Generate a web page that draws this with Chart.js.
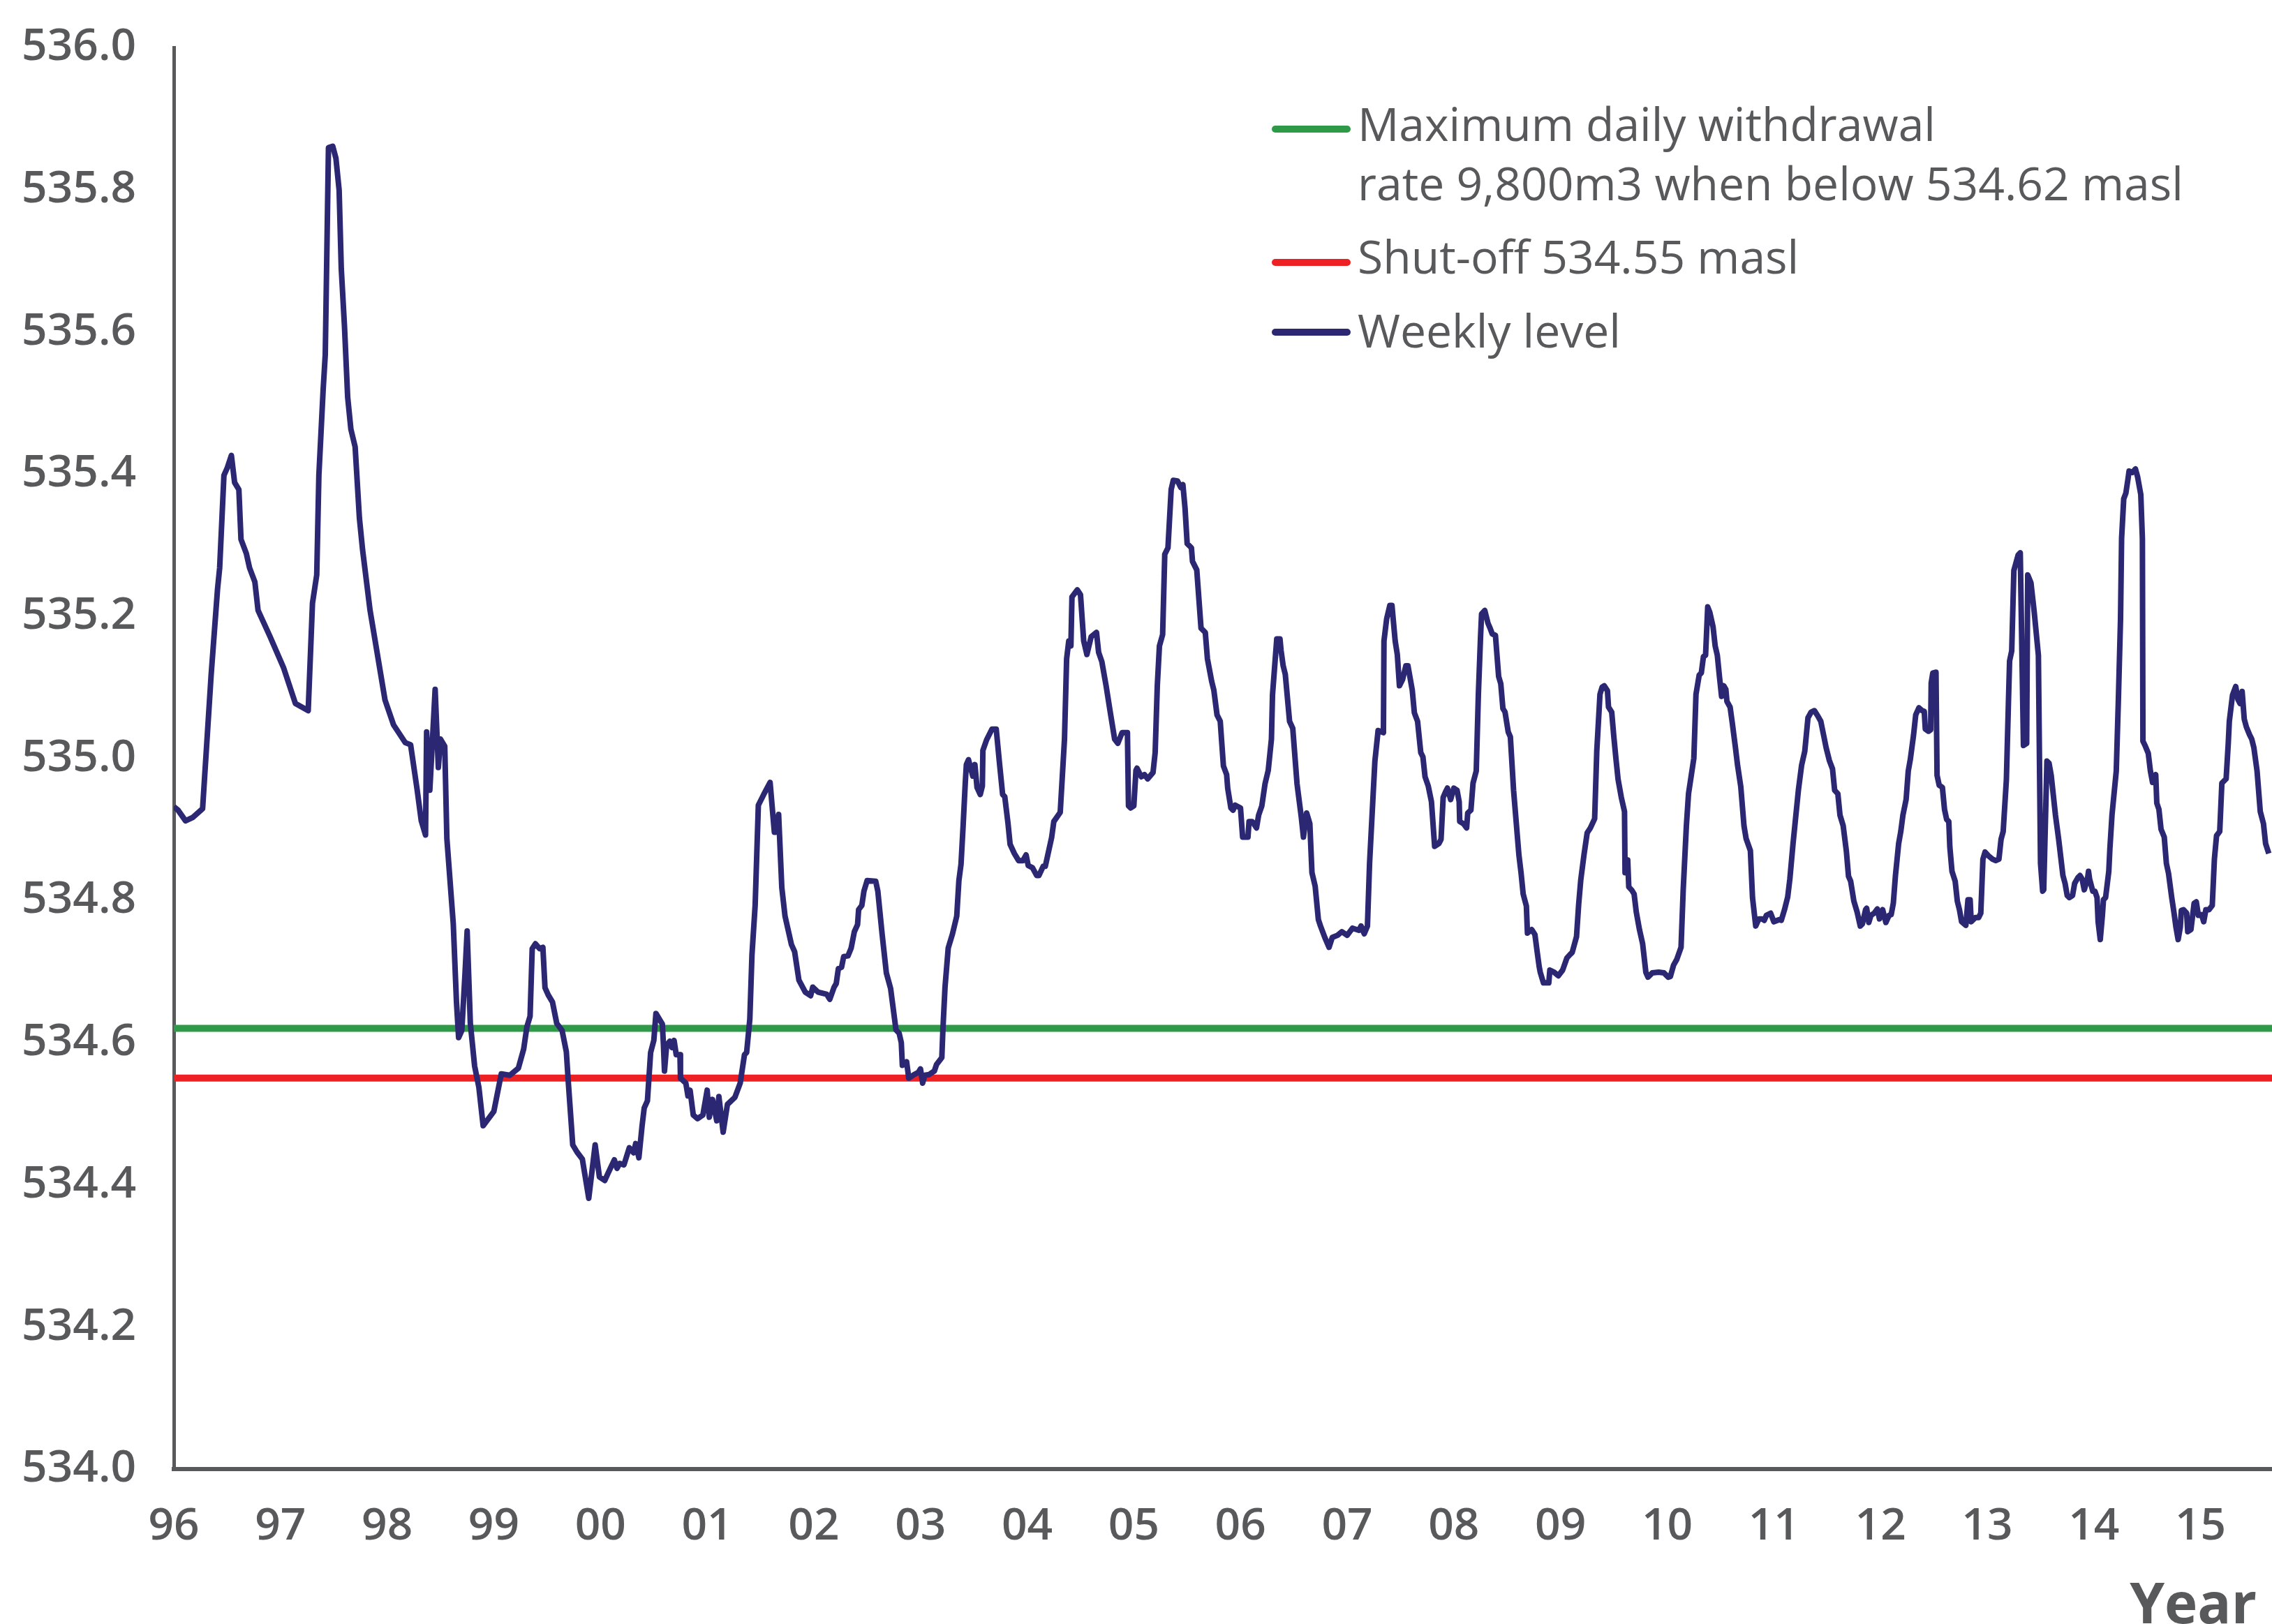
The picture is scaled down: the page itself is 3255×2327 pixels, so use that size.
<!DOCTYPE html>
<html>
<head>
<meta charset="utf-8">
<title>Weekly level</title>
<script src="https://cdn.jsdelivr.net/npm/chart.js@4.4.0/dist/chart.umd.min.js"></script>
<style>
  html, body { margin: 0; padding: 0; background: #fff; overflow: hidden; }
  canvas { display: block; }
</style>
</head>
<body>
<canvas id="chart" width="3255" height="2327"></canvas>
<script>
// weekly level readings (decimal year, masl)
const weekYears = [
  1996.00,1996.04,1996.11,1996.18,1996.27,1996.35,1996.41,1996.43,1996.47,1996.50,1996.54,1996.57,1996.61,1996.63,1996.68,1996.71,1996.76,1996.79,1996.90,
  1997.03,1997.14,1997.26,1997.30,1997.34,1997.36,1997.40,1997.42,1997.45,1997.49,1997.52,1997.55,1997.57,1997.60,1997.63,1997.66,1997.70,1997.74,1997.77,1997.84,1997.98,
  1998.06,1998.17,1998.22,1998.28,1998.32,1998.36,1998.37,1998.40,1998.45,1998.48,1998.50,1998.54,1998.56,1998.62,1998.65,1998.67,1998.70,1998.73,1998.75,1998.78,1998.82,1998.86,1998.90,
  1999.00,1999.07,1999.15,1999.23,1999.28,1999.31,1999.34,1999.36,1999.39,1999.43,1999.46,1999.48,1999.51,1999.55,1999.59,1999.64,1999.68,1999.70,1999.74,1999.78,1999.83,1999.89,1999.95,1999.99,
  2000.04,2000.07,2000.13,2000.155,2000.18,2000.22,2000.27,2000.31,2000.33,2000.36,2000.39,2000.41,2000.44,2000.47,2000.50,2000.52,2000.56,2000.58,2000.59,2000.60,2000.62,2000.65,2000.67,2000.69,2000.71,2000.745,2000.75,2000.80,2000.82,2000.84,2000.87,2000.91,2000.96,
  2001.00,2001.02,2001.05,2001.09,2001.11,2001.15,2001.19,2001.26,2001.31,2001.35,2001.37,2001.40,2001.42,2001.45,2001.48,2001.53,2001.59,2001.63,2001.64,2001.67,2001.70,2001.73,2001.79,2001.82,2001.86,2001.92,2001.97,2001.99,
  2002.04,2002.12,2002.15,2002.19,2002.21,2002.23,2002.26,2002.28,2002.32,2002.35,2002.38,2002.41,2002.42,2002.45,2002.47,2002.50,2002.58,2002.60,2002.64,2002.68,2002.72,2002.74,2002.77,2002.80,2002.82,2002.83,2002.87,2002.89,2002.94,2002.98,
  2003.00,2003.02,2003.04,2003.08,2003.13,2003.15,2003.20,2003.21,2003.23,2003.26,2003.30,2003.34,2003.36,2003.38,2003.40,2003.42,2003.43,2003.45,2003.49,2003.51,2003.53,2003.56,2003.58,2003.585,2003.62,2003.67,2003.71,2003.74,2003.77,2003.79,2003.82,2003.84,2003.88,2003.92,2003.96,2003.99,
  2004.01,2004.05,2004.09,2004.11,2004.15,2004.17,2004.23,2004.25,2004.31,2004.35,2004.37,2004.39,2004.41,2004.42,2004.47,2004.50,2004.53,2004.56,2004.60,2004.65,2004.67,2004.70,2004.74,2004.78,2004.82,2004.85,2004.89,2004.94,2004.95,2004.97,
  2005.00,2005.02,2005.03,2005.07,2005.10,2005.13,2005.18,2005.20,2005.22,2005.24,2005.27,2005.29,2005.32,2005.35,2005.37,2005.41,2005.44,2005.46,2005.48,2005.50,2005.54,2005.55,2005.59,2005.63,2005.67,2005.69,2005.73,2005.75,2005.78,2005.81,2005.84,2005.87,2005.88,2005.91,2005.93,2005.95,
  2006.00,2006.02,2006.07,2006.08,2006.11,2006.15,2006.17,2006.20,2006.23,2006.26,2006.29,2006.30,2006.34,2006.37,2006.38,2006.40,2006.42,2006.46,2006.49,2006.53,2006.57,2006.59,2006.62,2006.65,2006.67,2006.70,2006.73,2006.75,2006.79,2006.83,2006.86,2006.91,2006.95,
  2007.00,2007.05,2007.11,2007.13,2007.16,2007.19,2007.21,2007.24,2007.26,2007.29,2007.34,2007.345,2007.37,2007.40,2007.42,2007.45,2007.47,2007.49,2007.52,2007.55,2007.57,2007.61,2007.63,2007.66,2007.69,2007.71,2007.73,2007.76,2007.79,2007.82,2007.86,2007.88,2007.90,2007.92,2007.94,2007.97,
  2008.00,2008.03,2008.05,2008.055,2008.09,2008.12,2008.13,2008.16,2008.18,2008.21,2008.23,2008.25,2008.26,2008.29,2008.32,2008.34,2008.36,2008.39,2008.42,2008.44,2008.46,2008.48,2008.51,2008.53,2008.56,2008.61,2008.63,2008.65,2008.68,2008.69,2008.73,2008.76,2008.78,2008.80,2008.81,2008.84,2008.89,2008.90,2008.94,2008.98,
  2009.02,2009.06,2009.09,2009.11,2009.15,2009.17,2009.19,2009.22,2009.25,2009.28,2009.32,2009.34,2009.37,2009.39,2009.41,2009.44,2009.45,2009.48,2009.50,2009.52,2009.54,2009.57,2009.60,2009.605,2009.63,2009.64,2009.67,2009.69,2009.71,2009.74,2009.77,2009.80,2009.82,2009.86,2009.92,2009.97,
  2010.01,2010.03,2010.06,2010.09,2010.13,2010.15,2010.18,2010.20,2010.23,2010.25,2010.27,2010.30,2010.32,2010.34,2010.36,2010.38,2010.40,2010.43,2010.45,2010.47,2010.49,2010.51,2010.53,2010.55,2010.56,2010.59,2010.61,2010.64,2010.66,2010.69,2010.72,2010.74,2010.78,2010.80,2010.83,2010.86,2010.89,2010.91,2010.93,2010.97,
  2011.00,2011.05,2011.07,2011.10,2011.13,2011.15,2011.18,2011.20,2011.23,2011.26,2011.29,2011.32,2011.35,2011.38,2011.41,2011.44,2011.47,2011.49,2011.52,2011.55,2011.57,2011.60,2011.62,2011.65,2011.68,2011.70,2011.72,2011.75,2011.78,2011.81,2011.83,2011.86,2011.87,2011.89,2011.91,2011.94,2011.97,2011.99,
  2012.02,2012.05,2012.08,2012.10,2012.12,2012.14,2012.17,2012.19,2012.21,2012.24,2012.26,2012.28,2012.31,2012.33,2012.36,2012.39,2012.41,2012.42,2012.45,2012.47,2012.475,2012.49,2012.52,2012.53,2012.55,2012.58,2012.60,2012.62,2012.64,2012.65,2012.67,2012.70,2012.72,2012.74,2012.76,2012.80,2012.82,2012.84,2012.85,2012.89,2012.92,2012.94,2012.96,2012.98,
  2013.01,2013.05,2013.08,2013.11,2013.13,2013.15,2013.18,2013.20,2013.21,2013.23,2013.25,2013.29,2013.31,2013.34,2013.37,2013.38,2013.41,2013.44,2013.48,2013.50,2013.52,2013.53,2013.56,2013.58,2013.60,2013.64,2013.67,2013.71,2013.73,2013.75,2013.77,2013.80,2013.82,2013.85,2013.87,2013.89,2013.91,2013.94,2013.95,2013.96,2013.99,
  2014.01,2014.03,2014.04,2014.06,2014.08,2014.09,2014.11,2014.14,2014.15,2014.17,2014.21,2014.23,2014.25,2014.26,2014.28,2014.30,2014.32,2014.33,2014.36,2014.39,2014.41,2014.44,2014.455,2014.46,2014.48,2014.51,2014.53,2014.55,2014.58,2014.59,2014.61,2014.63,2014.66,2014.68,2014.70,2014.73,2014.75,2014.77,2014.79,2014.81,2014.82,2014.84,2014.87,2014.88,2014.91,2014.94,2014.96,2014.98,
  2015.01,2015.03,2015.05,2015.08,2015.11,2015.13,2015.15,2015.18,2015.20,2015.24,2015.26,2015.27,2015.30,2015.33,2015.35,2015.37,2015.39,2015.41,2015.43,2015.46,2015.48,2015.50,2015.53,2015.56,2015.59,2015.61,2015.64
];
const weekLevels = [
  534.932,534.927,534.912,534.917,534.929,535.117,535.238,535.268,535.398,535.408,535.426,535.388,535.378,535.308,535.288,535.268,535.248,535.208,535.172,
  535.127,535.077,535.067,535.218,535.258,535.398,535.518,535.568,535.859,535.861,535.844,535.799,535.689,535.608,535.508,535.463,535.438,535.338,535.293,535.208,535.082,
  535.047,535.022,535.019,534.957,534.912,534.892,535.037,534.955,535.097,534.987,535.027,535.017,534.887,534.767,534.657,534.607,534.617,534.697,534.757,534.627,534.567,534.537,534.483,
  534.503,534.556,534.554,534.564,534.591,534.622,534.637,534.732,534.739,534.732,534.734,534.677,534.667,534.657,534.627,534.617,534.587,534.541,534.456,534.446,534.436,534.381,534.456,534.411,
  534.406,534.416,534.435,534.423,534.430,534.428,534.452,534.445,534.458,534.438,534.483,534.508,534.518,534.586,534.603,534.641,534.631,534.626,534.598,534.560,534.596,534.602,534.593,534.603,534.583,534.583,534.550,534.543,534.525,534.533,534.498,534.493,534.498,
  534.533,534.495,534.520,534.490,534.524,534.474,534.513,534.523,534.543,534.583,534.586,534.633,534.723,534.793,534.934,534.949,534.966,534.896,534.896,534.921,534.818,534.778,534.738,534.728,534.688,534.671,534.666,534.678,
  534.671,534.668,534.661,534.678,534.683,534.704,534.706,534.721,534.722,534.733,534.756,534.766,534.787,534.793,534.813,534.828,534.827,534.813,534.753,534.698,534.676,534.653,534.618,534.613,534.600,534.568,534.573,534.550,534.555,534.558,
  534.563,534.543,534.554,534.555,534.560,534.569,534.579,534.618,534.678,534.733,534.753,534.778,534.828,534.851,534.906,534.966,534.991,534.998,534.975,534.991,534.959,534.949,534.961,535.011,535.026,535.041,535.041,534.994,534.949,534.946,534.909,534.879,534.866,534.856,534.856,534.864,
  534.849,534.846,534.835,534.835,534.848,534.848,534.889,534.911,534.924,535.027,535.140,535.165,535.158,535.227,535.237,535.230,535.165,535.146,535.171,535.177,535.149,535.136,535.102,535.064,535.027,535.021,535.036,535.036,534.933,534.930,
  534.933,534.983,534.986,534.974,534.977,534.971,534.980,535.008,535.102,535.158,535.174,535.287,535.296,535.378,535.391,535.390,535.381,535.385,535.352,535.302,535.296,535.277,535.265,535.183,535.177,535.140,535.108,535.096,535.061,535.052,534.989,534.977,534.958,534.930,534.927,534.934,
  534.930,534.889,534.889,534.911,534.911,534.902,534.920,534.933,534.964,534.983,535.027,535.089,535.168,535.168,535.152,535.130,535.118,535.052,535.042,534.964,534.917,534.889,534.923,534.908,534.839,534.820,534.773,534.764,534.748,534.734,534.748,534.751,534.756,
  534.751,534.761,534.758,534.764,534.753,534.764,534.852,534.939,534.996,535.039,535.036,535.165,535.196,535.215,535.215,535.165,535.146,535.102,535.111,535.130,535.130,535.096,535.064,535.052,535.008,535.002,534.974,534.961,534.939,534.876,534.880,534.886,534.945,534.952,534.958,534.942,
  534.958,534.955,534.939,534.911,534.908,534.902,534.923,534.927,534.965,534.982,535.090,535.170,535.203,535.208,535.190,535.183,535.175,535.173,535.115,535.105,535.070,535.065,535.037,535.030,534.955,534.864,534.839,534.809,534.792,534.754,534.759,534.752,534.729,534.707,534.699,534.684,534.684,534.702,534.699,534.694,
  534.702,534.719,534.724,534.727,534.749,534.794,534.829,534.864,534.895,534.902,534.915,535.010,535.090,535.100,535.102,535.095,535.072,535.065,535.030,534.999,534.970,534.945,534.925,534.839,534.857,534.819,534.814,534.809,534.784,534.759,534.739,534.699,534.692,534.698,534.699,534.698,
  534.692,534.693,534.709,534.717,534.734,534.814,534.905,534.950,534.980,535.000,535.090,535.117,535.120,535.143,535.145,535.213,535.205,535.185,535.158,535.145,535.115,535.087,535.102,535.097,535.080,535.072,535.050,535.015,534.990,534.960,534.905,534.887,534.870,534.804,534.764,534.774,534.774,534.772,534.779,534.782,
  534.770,534.773,534.772,534.787,534.805,534.830,534.880,534.910,534.955,534.990,535.010,535.057,535.065,535.067,535.060,535.052,535.030,535.015,534.997,534.985,534.955,534.950,534.920,534.905,534.869,534.834,534.827,534.799,534.784,534.764,534.767,534.787,534.789,534.769,534.779,534.782,534.788,534.774,
  534.787,534.769,534.779,534.780,534.796,534.835,534.880,534.897,534.920,534.942,534.982,534.999,535.033,535.061,535.071,535.067,535.066,535.041,535.038,535.040,535.106,535.120,535.121,534.976,534.962,534.959,534.928,534.914,534.911,534.875,534.841,534.827,534.799,534.787,534.770,534.765,534.801,534.801,534.770,534.776,534.776,534.782,534.858,534.868,
  534.863,534.858,534.856,534.858,534.886,534.897,534.970,535.083,535.137,535.151,535.264,535.286,535.289,535.018,535.021,535.258,535.247,535.207,535.145,534.852,534.813,534.815,534.996,534.993,534.976,534.920,534.886,534.835,534.824,534.807,534.804,534.807,534.824,534.832,534.835,534.830,534.815,534.830,534.841,534.830,534.813,
  534.813,534.804,534.770,534.745,534.779,534.801,534.804,534.841,534.872,534.920,534.982,535.083,535.196,535.309,535.365,535.373,535.393,535.404,535.402,535.407,535.396,535.371,535.309,535.024,535.018,535.007,534.982,534.966,534.977,534.937,534.928,534.900,534.889,534.852,534.838,534.804,534.784,534.762,534.745,534.762,534.786,534.787,534.782,534.756,534.759,534.796,534.798,534.779,
  534.780,534.770,534.787,534.787,534.793,534.858,534.891,534.897,534.965,534.971,535.021,535.052,535.089,535.101,535.083,535.077,535.094,535.055,535.044,535.033,535.027,535.015,534.982,534.925,534.908,534.880,534.866
];

// threshold levels
const withdrawalLevel = 534.62;
const shutoffLevel = 534.55;
const yearSpan = [1996, 2015.67];

// axes
const yearTicks = [1996,1997,1998,1999,2000,2001,2002,2003,2004,2005,2006,2007,2008,2009,2010,2011,2012,2013,2014,2015];
const yearLabels = ['96','97','98','99','00','01','02','03','04','05','06','07','08','09','10','11','12','13','14','15'];
const levelTicks = [534.0,534.2,534.4,534.6,534.8,535.0,535.2,535.4,535.6,535.8,536.0];

const legendText = [
  ['Maximum daily withdrawal', 'rate 9,800m3 when below 534.62 masl'],
  ['Shut-off 534.55 masl'],
  ['Weekly level']
];

const GREY = '#58595b';
const GREEN = '#2e9a47';
const RED = '#ed2024';
const NAVY = '#2b2773';

// legend and the "Year" title drawn by hand so they sit where the original has them
const legendPlugin = {
  id: 'legendPlugin',
  afterDraw(chart) {
    const ctx = chart.ctx;
    const rows = [
      { color: GREEN, lineY: 185, baselines: [202, 287] },
      { color: RED, lineY: 376, baselines: [392] },
      { color: NAVY, lineY: 476, baselines: [498] }
    ];
    ctx.save();
    ctx.lineCap = 'round';
    ctx.lineWidth = 10;
    ctx.font = '400 66px "Open Sans"';
    ctx.fillStyle = GREY;
    ctx.textAlign = 'left';
    ctx.textBaseline = 'alphabetic';
    rows.forEach((row, i) => {
      ctx.strokeStyle = row.color;
      ctx.beginPath();
      ctx.moveTo(1827, row.lineY);
      ctx.lineTo(1930, row.lineY);
      ctx.stroke();
      legendText[i].forEach((line, j) => ctx.fillText(line, 1945, row.baselines[j]));
    });

    ctx.font = 'bold 80px "Open Sans"';
    ctx.textAlign = 'right';
    ctx.fillText('Year', 3233, 2326);
    ctx.restore();
  }
};

// fixed scale sizes, and no extra room for overhanging tick labels
const fixLeft = s => { s.width = 249; s.paddingTop = 0; s.paddingBottom = 0; };
const fixBottom = s => { s.height = 222; s.paddingLeft = 0; s.paddingRight = 0; };

new Chart(document.getElementById('chart'), {
  type: 'line',
  data: {
    datasets: [
      {
        label: legendText[2].join(' '),
        data: weekYears.map((x, i) => ({ x: x, y: weekLevels[i] })),
        borderColor: NAVY,
        borderWidth: 8
      },
      {
        label: legendText[0].join(' '),
        data: yearSpan.map(x => ({ x: x, y: withdrawalLevel })),
        borderColor: GREEN,
        borderWidth: 10
      },
      {
        label: legendText[1].join(' '),
        data: yearSpan.map(x => ({ x: x, y: shutoffLevel })),
        borderColor: RED,
        borderWidth: 10
      }
    ]
  },
  options: {
    responsive: false,
    animation: false,
    devicePixelRatio: 1,
    layout: { padding: { top: 68, right: 0, bottom: 0, left: 0 } },
    elements: {
      point: { radius: 0 },
      line: { tension: 0, borderJoinStyle: 'round', fill: false }
    },
    plugins: {
      legend: { display: false },
      tooltip: { enabled: false }
    },
    scales: {
      x: {
        type: 'linear',
        min: yearSpan[0],
        max: yearSpan[1],
        grid: { display: false, drawTicks: false },
        border: { display: true, color: GREY, width: 6 },
        ticks: {
          autoSkip: false,
          maxRotation: 0,
          padding: 44,
          color: GREY,
          font: { family: '"Open Sans"', size: 64, weight: '600' },
          callback: v => yearLabels[yearTicks.indexOf(Math.round(v))]
        },
        afterBuildTicks: s => { s.ticks = yearTicks.map(v => ({ value: v })); },
        afterFit: fixBottom
      },
      y: {
        min: levelTicks[0],
        max: levelTicks[levelTicks.length - 1],
        grid: { display: false, drawTicks: false },
        border: { display: true, color: GREY, width: 5 },
        ticks: {
          padding: 54,
          color: GREY,
          font: { family: '"Open Sans"', size: 64, weight: '600' },
          callback: v => v.toFixed(1)
        },
        afterBuildTicks: s => { s.ticks = levelTicks.map(v => ({ value: v })); },
        afterFit: fixLeft
      }
    }
  },
  plugins: [legendPlugin]
});
</script>
</body>
</html>
